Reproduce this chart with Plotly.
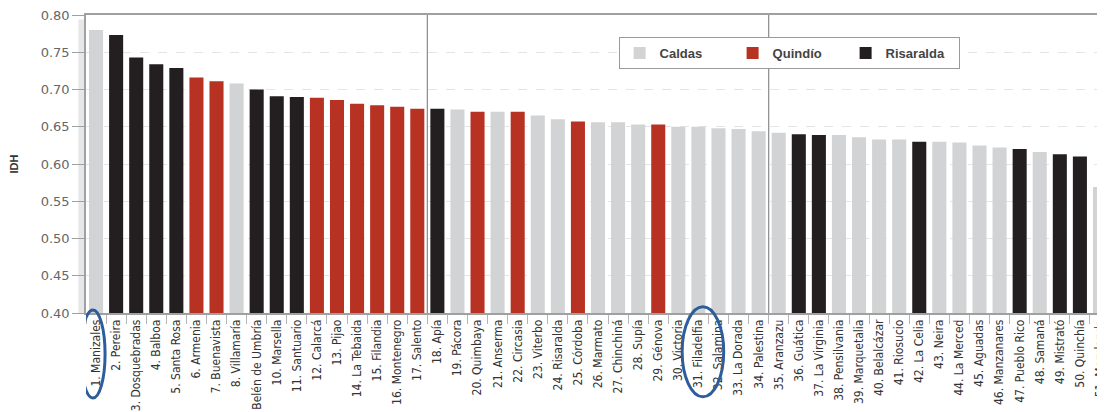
import plotly.graph_objects as go

# Municipios ordenados por IDH
municipios = [
    "1. Manizales", "2. Pereira", "3. Dosquebradas", "4. Balboa", "5. Santa Rosa",
    "6. Armenia", "7. Buenavista", "8. Villamaría", "9. Belén de Umbría", "10. Marsella",
    "11. Santuario", "12. Calarcá", "13. Pijao", "14. La Tebaida", "15. Filandia",
    "16. Montenegro", "17. Salento", "18. Apía", "19. Pácora", "20. Quimbaya",
    "21. Anserma", "22. Circasia", "23. Viterbo", "24. Risaralda", "25. Córdoba",
    "26. Marmato", "27. Chinchiná", "28. Supía", "29. Génova", "30. Victoria",
    "31. Filadelfia", "32. Salamina", "33. La Dorada", "34. Palestina", "35. Aranzazu",
    "36. Guática", "37. La Virginia", "38. Pensilvania", "39. Marquetalia", "40. Belalcázar",
    "41. Riosucio", "42. La Celia", "43. Neira", "44. La Merced", "45. Aguadas",
    "46. Manzanares", "47. Pueblo Rico", "48. Samaná", "49. Mistrató", "50. Quinchía",
    "51. Marulanda",
]
idh = [
    0.780, 0.773, 0.743, 0.734, 0.729,
    0.716, 0.711, 0.708, 0.700, 0.691,
    0.690, 0.689, 0.686, 0.681, 0.679,
    0.677, 0.674, 0.674, 0.673, 0.670,
    0.670, 0.670, 0.665, 0.660, 0.657,
    0.656, 0.656, 0.653, 0.653, 0.650,
    0.650, 0.648, 0.647, 0.644, 0.642,
    0.640, 0.639, 0.639, 0.636, 0.633,
    0.633, 0.630, 0.630, 0.629, 0.625,
    0.622, 0.620, 0.616, 0.613, 0.610,
    0.569,
]
departamento = (
    ["Caldas"] + ["Risaralda"] * 4 + ["Quindío"] * 2 + ["Caldas"] + ["Risaralda"] * 3
    + ["Quindío"] * 6 + ["Risaralda", "Caldas", "Quindío", "Caldas", "Quindío",
                         "Caldas", "Caldas", "Quindío", "Caldas", "Caldas", "Caldas", "Quindío"]
    + ["Caldas"] * 6 + ["Risaralda"] * 2 + ["Caldas"] * 4 + ["Risaralda"]
    + ["Caldas"] * 4 + ["Risaralda", "Caldas", "Risaralda", "Risaralda", "Caldas"]
)
colores = {"Caldas": "#d1d3d4", "Quindío": "#b83223", "Risaralda": "#231f20"}
y_ticks = [0.40, 0.45, 0.50, 0.55, 0.60, 0.65, 0.70, 0.75, 0.80]

fig = go.Figure()

for dep in ["Caldas", "Quindío", "Risaralda"]:
    xs = [m for m, d in zip(municipios, departamento) if d == dep]
    ys = [v for v, d in zip(idh, departamento) if d == dep]
    fig.add_trace(go.Bar(
        x=xs, y=ys, name=dep,
        marker=dict(color=colores[dep], line=dict(width=0)),
        width=0.7,
    ))

# light band along the left axis
fig.add_shape(type="rect", xref="paper", yref="paper", x0=-0.0075, x1=0, y0=0, y1=0.985,
              fillcolor="#e6e7e8", line=dict(width=0), layer="below")

# group separators
for pos in [16.5, 33.5]:
    fig.add_shape(type="line", xref="x", yref="paper", x0=pos, x1=pos, y0=0, y1=1,
                  line=dict(color="#8a8a8a", width=1.2), layer="above")

# blue highlight ellipses (Manizales, Filadelfia)
fig.add_shape(type="circle", xref="x", yref="paper", x0=-0.76, x1=0.45, y0=-0.285, y1=0.01,
              line=dict(color="#2f5d9b", width=3))
fig.add_shape(type="circle", xref="x", yref="paper", x0=30 - 0.81, x1=30 + 1.26, y0=-0.281, y1=0.021,
              line=dict(color="#2f5d9b", width=3))

# the page body adds an 8px offset, so the figure is sized/margined to compensate
fig.update_layout(
    width=1097, height=404,
    margin=dict(l=78, r=0, t=7, b=99),
    paper_bgcolor="white", plot_bgcolor="white",
    barmode="overlay",
    showlegend=True,
    legend=dict(
        orientation="h", x=0.69, y=0.872, xanchor="center", yanchor="middle",
        bgcolor="white", bordercolor="#9a9a9a", borderwidth=1,
        font=dict(family="Liberation Sans, Arial, sans-serif", size=13, color="#444",
                  weight="bold"),
        entrywidth=68, itemsizing="constant",
    ),
    font=dict(family="Liberation Sans, Arial, sans-serif"),
)

fig.update_xaxes(
    type="category", categoryorder="array", categoryarray=municipios,
    range=[-0.5, 50.25],
    tickangle=-90,
    tickfont=dict(family="Liberation Sans Narrow, DejaVu Sans Condensed, Arial Narrow, sans-serif",
                  size=12, color="#333"),
    ticks="outside", tickson="boundaries", ticklen=9, tickcolor="#b5b5b5",
    showline=True, linecolor="#a0a0a0", linewidth=1.5, mirror=True,
    showgrid=False, automargin=False, ticklabeloverflow="allow",
)
fig.update_yaxes(
    range=[0.40, 0.80], tickvals=y_ticks, tickformat=".2f",
    tickfont=dict(family="DejaVu Sans, sans-serif", size=13, color="#666"),
    ticks="outside", ticklen=12, tickcolor="#a0a0a0",
    showline=True, linecolor="#a0a0a0", linewidth=1.5,
    showgrid=True, gridcolor="#e4e4e4", griddash="dash", gridwidth=1,
    title=dict(text="<b>IDH</b>", font=dict(size=11, color="#333"), standoff=22),
    zeroline=False, automargin=False, ticklabeloverflow="allow",
)

fig.write_html("out.html")
